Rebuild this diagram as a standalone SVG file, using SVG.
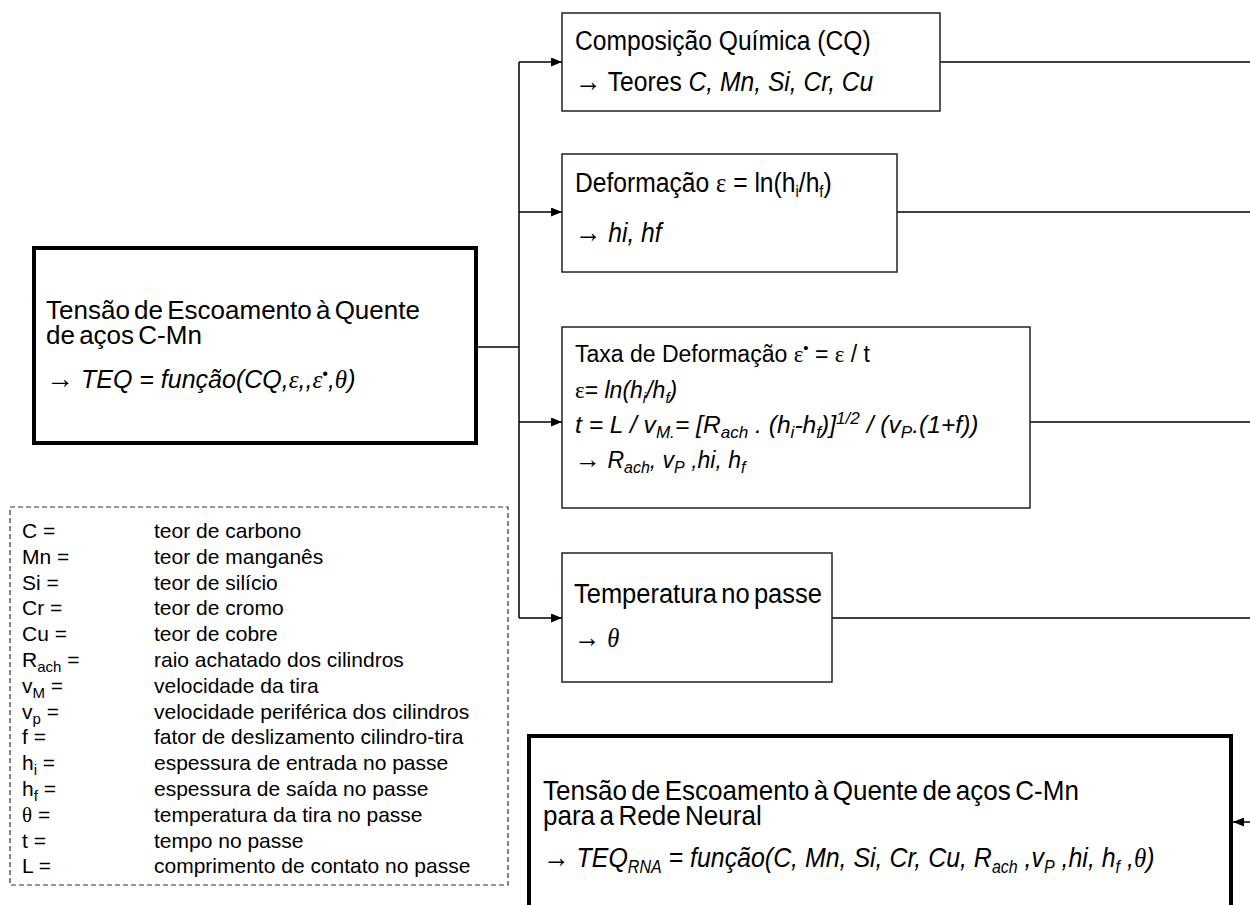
<svg xmlns="http://www.w3.org/2000/svg" width="1250" height="905" viewBox="0 0 1250 905">
<style>
text{font-family:"Liberation Sans",Arial,sans-serif;fill:#000}
.box{fill:#fff;stroke:#222;stroke-width:1.5}
.thick{fill:#fff;stroke:#000;stroke-width:4}
.leg{fill:none;stroke:#333;stroke-width:1.2;stroke-dasharray:5 3}
.wire{fill:none;stroke:#000;stroke-width:1.5}
.it{font-style:italic}
.sr{font-family:"Liberation Serif","Times New Roman",serif}
.ar{font-family:"Liberation Serif","Times New Roman",serif;font-style:normal}
.tight{word-spacing:-3px}
.b28{font-size:28px}
.t26{font-size:26px}
.t25{font-size:25px}
.t23{font-size:23px}
.lg{font-size:21px}
</style>
<defs>
<marker id="ah" markerUnits="userSpaceOnUse" markerWidth="11" markerHeight="9" refX="11" refY="4.5" orient="auto">
<path d="M0,0 L11,4.5 L0,9 z" fill="#000"/>
</marker>
</defs>

<g id="connectors">
<path class="wire" d="M476,347 H519"/>
<path class="wire" d="M519,62 V618"/>
<path class="wire" d="M519,62 H562" marker-end="url(#ah)"/>
<path class="wire" d="M519,212 H562" marker-end="url(#ah)"/>
<path class="wire" d="M519,422 H562" marker-end="url(#ah)"/>
<path class="wire" d="M519,618 H562" marker-end="url(#ah)"/>
<path class="wire" d="M940,62 H1250"/>
<path class="wire" d="M897,212 H1250"/>
<path class="wire" d="M1030,422 H1250"/>
<path class="wire" d="M832,618 H1250"/>
<path class="wire" d="M1250,822 H1233" marker-end="url(#ah)"/>
</g>

<g id="main">
<rect class="thick" x="34" y="248" width="442" height="195"/>
<text class="t26 tight" x="46" y="319">Tensão de Escoamento à Quente</text>
<text class="t26 tight" x="46" y="344">de aços C-Mn</text>
<text class="t25" x="46" y="388"><tspan class="ar" font-size="28">→</tspan> <tspan class="it">TEQ  = função(CQ,<tspan class="sr">ε</tspan>,,<tspan class="sr">ε</tspan><tspan font-size="16" dy="-9">•</tspan><tspan dy="9">,</tspan><tspan class="sr">θ</tspan>)</tspan></text>
</g>

<g id="cq">
<rect class="box" x="562" y="13" width="378" height="98"/>
<g transform="translate(575 50) scale(0.88 1)">
<text class="b28" x="0" y="0">Composição Química  (CQ)</text>
</g>
<g transform="translate(575 91) scale(0.88 1)">
<text class="b28" x="0" y="0"><tspan class="ar" font-size="30">→</tspan> Teores <tspan class="it">C, Mn, Si, Cr, Cu</tspan></text>
</g>
</g>

<g id="deformacao">
<rect class="box" x="562" y="154" width="335" height="118"/>
<g transform="translate(575 192) scale(0.88 1)">
<text class="b28" x="0" y="0">Deformação <tspan class="sr">ε</tspan> = ln(h<tspan font-size="17" dy="5">i</tspan><tspan dy="-5">/h</tspan><tspan font-size="17" dy="5">f</tspan><tspan dy="-5">)</tspan></text>
</g>
<g transform="translate(575 242) scale(0.88 1)">
<text class="b28" x="0" y="0"><tspan class="ar" font-size="30">→</tspan> <tspan class="it">hi, hf</tspan></text>
</g>
</g>

<g id="taxa">
<rect class="box" x="562" y="327" width="468" height="181"/>
<text class="t23" x="575" y="362">Taxa de Deformação <tspan class="sr">ε</tspan><tspan font-size="15" dy="-9">•</tspan><tspan dy="9"> = </tspan><tspan class="sr">ε</tspan> / t</text>
<text class="t23" x="575" y="398"><tspan class="sr">ε</tspan>= <tspan class="it">ln(h<tspan font-size="15" dy="5">i</tspan><tspan dy="-5">/h</tspan><tspan font-size="15" dy="5">f</tspan><tspan dy="-5">)</tspan></tspan></text>
<g transform="translate(575 433) scale(1.07 1)">
<text class="t23 it" x="0" y="0">t = L / v<tspan font-size="16" dy="5">M.</tspan><tspan dy="-5">= [R</tspan><tspan font-size="16" dy="5">ach</tspan><tspan dy="-5"> . (h</tspan><tspan font-size="16" dy="5">i</tspan><tspan dy="-5">-h</tspan><tspan font-size="16" dy="5">f</tspan><tspan dy="-5">)]</tspan><tspan font-size="16" dy="-9">1/2</tspan><tspan dy="9"> / (v</tspan><tspan font-size="16" dy="5">P</tspan><tspan dy="-5">.(1+f))</tspan></text>
</g>
<text class="t23" x="575" y="468"><tspan class="ar" font-size="26">→</tspan> <tspan class="it">R<tspan font-size="16" dy="5">ach</tspan><tspan dy="-5">, v</tspan><tspan font-size="16" dy="5">P</tspan><tspan dy="-5"> ,hi, h</tspan><tspan font-size="16" dy="5">f</tspan></tspan></text>
</g>

<g id="temperatura">
<rect class="box" x="562" y="553" width="270" height="129"/>
<g transform="translate(574 603) scale(0.91 1)">
<text class="b28 tight" x="0" y="0">Temperatura no passe</text>
</g>
<g transform="translate(574 647) scale(0.88 1)">
<text class="b28" x="0" y="0"><tspan class="ar" font-size="30">→</tspan> <tspan class="sr it">θ</tspan></text>
</g>
</g>

<g id="legenda">
<rect class="leg" x="10" y="507" width="498" height="378"/>
<text class="lg" x="22" y="538">C =</text><text class="lg" x="154" y="538">teor de carbono</text>
<text class="lg" x="22" y="564">Mn =</text><text class="lg" x="154" y="564">teor de manganês</text>
<text class="lg" x="22" y="590">Si =</text><text class="lg" x="154" y="590">teor de silício</text>
<text class="lg" x="22" y="615">Cr =</text><text class="lg" x="154" y="615">teor de cromo</text>
<text class="lg" x="22" y="641">Cu =</text><text class="lg" x="154" y="641">teor de cobre</text>
<text class="lg" x="22" y="667">R<tspan font-size="15" dy="5">ach</tspan><tspan dy="-5"> =</tspan></text><text class="lg" x="154" y="667">raio achatado dos cilindros</text>
<text class="lg" x="22" y="693">v<tspan font-size="15" dy="5">M</tspan><tspan dy="-5"> =</tspan></text><text class="lg" x="154" y="693">velocidade da tira</text>
<text class="lg" x="22" y="719">v<tspan font-size="15" dy="5">p</tspan><tspan dy="-5"> =</tspan></text><text class="lg" x="154" y="719">velocidade periférica dos cilindros</text>
<text class="lg" x="22" y="744">f =</text><text class="lg" x="154" y="744">fator de deslizamento cilindro-tira</text>
<text class="lg" x="22" y="770">h<tspan font-size="15" dy="5">i</tspan><tspan dy="-5"> =</tspan></text><text class="lg" x="154" y="770">espessura de entrada no passe</text>
<text class="lg" x="22" y="796">h<tspan font-size="15" dy="5">f</tspan><tspan dy="-5"> =</tspan></text><text class="lg" x="154" y="796">espessura de saída  no passe</text>
<text class="lg" x="22" y="822"><tspan class="sr">θ</tspan> =</text><text class="lg" x="154" y="822">temperatura da tira no passe</text>
<text class="lg" x="22" y="848">t =</text><text class="lg" x="154" y="848">tempo no passe</text>
<text class="lg" x="22" y="873">L =</text><text class="lg" x="154" y="873">comprimento de contato no passe</text>
</g>

<g id="rede-neural">
<rect class="thick" x="529" y="736" width="702" height="185"/>
<g transform="translate(543 800) scale(0.93 1)">
<text class="b28 tight" x="0" y="0">Tensão de Escoamento à Quente de aços C-Mn</text>
</g>
<g transform="translate(543 825) scale(0.93 1)">
<text class="b28 tight" x="0" y="0">para a Rede Neural</text>
</g>
<g transform="translate(543 867) scale(0.89 1)">
<text class="b28" x="0" y="0"><tspan class="ar" font-size="30">→</tspan> <tspan class="it">TEQ<tspan font-size="18" dy="6">RNA</tspan><tspan dy="-6">  = função(C, Mn, Si, Cr, Cu, R</tspan><tspan font-size="18" dy="6">ach</tspan><tspan dy="-6"> ,v</tspan><tspan font-size="18" dy="6">P</tspan><tspan dy="-6"> ,hi, h</tspan><tspan font-size="18" dy="6">f</tspan><tspan dy="-6"> ,</tspan><tspan class="sr">θ</tspan>)</tspan></text>
</g>
</g>
</svg>
